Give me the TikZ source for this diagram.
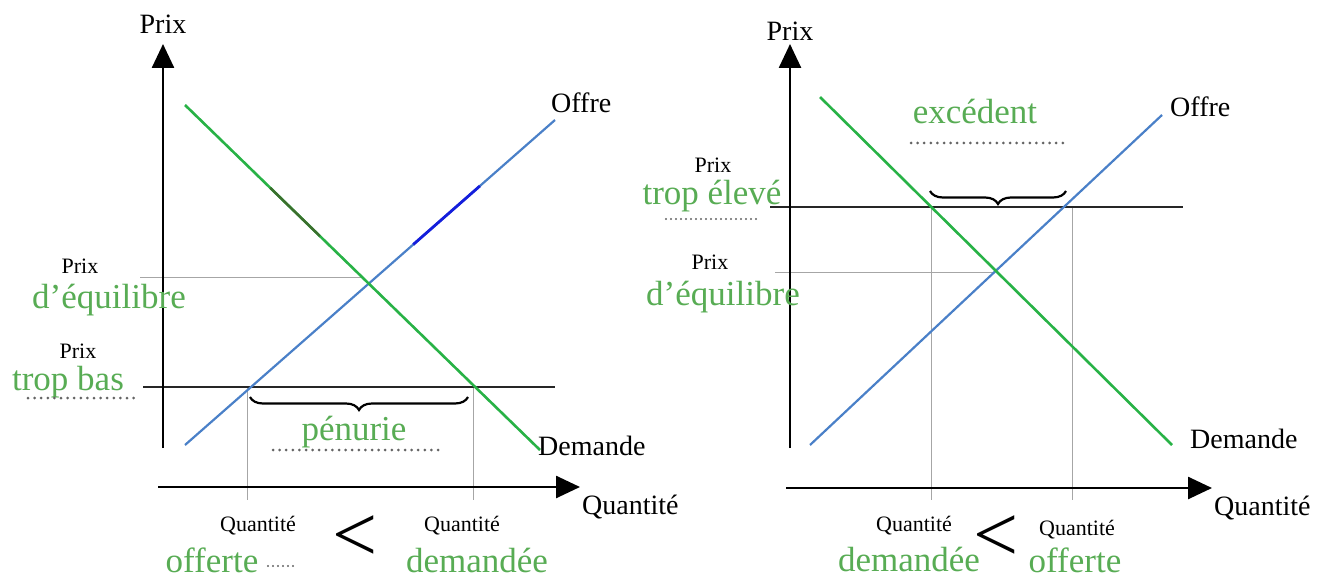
\documentclass[tikz,border=0pt]{standalone}
\usepackage{fontspec}
\setmainfont{Liberation Serif}
\usetikzlibrary{arrows.meta,decorations.pathreplacing,calc}
\definecolor{txtgreen}{RGB}{88,172,84}
\definecolor{lngreen}{RGB}{40,178,70}
\definecolor{lnblue}{RGB}{74,128,200}
\definecolor{dotgray}{RGB}{100,100,100}
\definecolor{hiblue}{RGB}{20,30,220}
\definecolor{dkgreen}{RGB}{60,110,45}
\tikzset{
  axis/.style={line width=2.6pt,-{Triangle[length=24pt,width=22pt]}},
  supply/.style={lnblue,line width=2.2pt},
  demand/.style={lngreen,line width=2.6pt},
  guide/.style={gray!70,line width=0.8pt},
  pline/.style={black!85,line width=1.3pt},
  dotline/.style={dotgray,line width=3pt,line cap=round,dash pattern=on 0pt off 6.6pt},
  smalldots/.style={dotgray,line width=2.2pt,line cap=round,dash pattern=on 0pt off 5pt},
  lbl/.style={inner sep=0pt,font=\fontsize{28}{30}\selectfont},
  small/.style={inner sep=0pt,font=\fontsize{22}{24}\selectfont},
  glbl/.style={inner sep=0pt,text=txtgreen,font=\fontsize{35}{37}\selectfont},
  bigsym/.style={inner sep=0pt,font=\fontsize{80}{80}\selectfont},
  brc/.style={decorate,decoration={brace,amplitude=13pt},line width=2.2pt}
}
\begin{document}
\begin{tikzpicture}[x=1pt,y=-1pt]
\useasboundingbox (0,0) rectangle (1335,580);
% ---------------- LEFT ----------------
\coordinate (lyb) at (163,448);
\coordinate (lyt) at (163,44);
\coordinate (lxl) at (158,487);
\coordinate (lxr) at (580,487);
\coordinate (ls1) at (185,445);
\coordinate (ls2) at (555,120);
\coordinate (ld1) at (185,105);
\coordinate (ld2) at (540,450);
\coordinate (leq1) at (140,277);
\coordinate (leq2) at (362,277);
\coordinate (lp1) at (143,387);
\coordinate (lp2) at (555,387);
\coordinate (lv1t) at (247,387);
\coordinate (lv1b) at (247,500);
\coordinate (lv2t) at (473,387);
\coordinate (lv2b) at (473,500);
\draw[guide] (leq1) -- (leq2);
\draw[guide] (lv1t) -- (lv1b);
\draw[guide] (lv2t) -- (lv2b);
\draw[pline] (lp1) -- (lp2);
\draw[supply] (ls1) -- (ls2);
\draw[demand] (ld1) -- (ld2);
% highlighted segments on the curves
\coordinate (lsh1) at ($(ls1)!0.617!(ls2)$);
\coordinate (lsh2) at ($(ls1)!0.797!(ls2)$);
\draw[hiblue,line width=2.8pt] (lsh1) -- (lsh2);
\coordinate (ldh1) at ($(ld1)!0.24!(ld2)$);
\coordinate (ldh2) at ($(ld1)!0.38!(ld2)$);
\draw[dkgreen,line width=2.4pt] (ldh1) -- (ldh2);
\draw[axis] (lyb) -- (lyt);
\draw[axis] (lxl) -- (lxr);
\coordinate (lb1) at (468,397);
\coordinate (lb2) at (250,397);
\draw[brc] (lb1) -- (lb2);
\node[lbl] (prixTL) at (163,24) {Prix};
\node[lbl,anchor=west] (offreL) at (551,103) {Offre};
\node[lbl,anchor=west] (demL) at (538,446) {Demande};
\node[lbl,anchor=west] (quantL) at (582,507) {Quantité};
\node[small] (prixEqL) at (80,266) {Prix};
\node[glbl] (eqL) at (109,300) {d’équilibre};
\node[small] (prixBasL) at (78,351) {Prix};
\node[glbl] (basL) at (68,382) {trop bas};
\coordinate (lbd1) at (28,398);
\coordinate (lbd2) at (135,398);
\draw[dotline] (lbd1) -- (lbd2);
\node[glbl] (penL) at (354,432) {pénurie};
\coordinate (lpd1) at (273,450);
\coordinate (lpd2) at (442,450);
\draw[dotline] (lpd1) -- (lpd2);
\node[small] (qoL) at (258,526) {Quantité};
\node[glbl] (offL) at (212,560) {offerte};
\coordinate (lod1) at (268,566);
\coordinate (lod2) at (296,566);
\draw[smalldots] (lod1) -- (lod2);
\node[bigsym] (ltL) at (355,539) {<};
\node[small] (qdL) at (462,526) {Quantité};
\node[glbl] (demdL) at (477,560) {demandée};
% ---------------- RIGHT ----------------
\coordinate (ryb) at (790,448);
\coordinate (ryt) at (790,44);
\coordinate (rxl) at (786,488);
\coordinate (rxr) at (1212,488);
\coordinate (rs1) at (810,445);
\coordinate (rs2) at (1162,115);
\coordinate (rd1) at (820,97);
\coordinate (rd2) at (1172,445);
\coordinate (req1) at (775,272);
\coordinate (req2) at (995,272);
\coordinate (rp1) at (770,207);
\coordinate (rp2) at (1183,207);
\coordinate (rv1t) at (931,207);
\coordinate (rv1b) at (931,500);
\coordinate (rv2t) at (1072,207);
\coordinate (rv2b) at (1072,500);
\draw[guide] (req1) -- (req2);
\draw[guide] (rv1t) -- (rv1b);
\draw[guide] (rv2t) -- (rv2b);
\draw[pline] (rp1) -- (rp2);
\draw[supply] (rs1) -- (rs2);
\draw[demand] (rd1) -- (rd2);
\draw[axis] (ryb) -- (ryt);
\draw[axis] (rxl) -- (rxr);
\coordinate (rb1) at (930,191);
\coordinate (rb2) at (1066,191);
\draw[brc] (rb2) -- (rb1);
\node[lbl] (prixTR) at (790,31) {Prix};
\node[lbl,anchor=west] (offreR) at (1170,107) {Offre};
\node[lbl,anchor=west] (demR) at (1190,439) {Demande};
\node[lbl,anchor=west] (quantR) at (1214,508) {Quantité};
\node[small] (prixElR) at (713,165) {Prix};
\node[glbl] (elR) at (712,196) {trop élevé};
\coordinate (red1) at (666,219);
\coordinate (red2) at (757,219);
\draw[smalldots] (red1) -- (red2);
\node[small] (prixEqR) at (710,262) {Prix};
\node[glbl] (eqR) at (723,297) {d’équilibre};
\node[glbl] (excR) at (975,112) {excédent};
\coordinate (rxd1) at (911,143);
\coordinate (rxd2) at (1065,143);
\draw[dotline] (rxd1) -- (rxd2);
\node[small] (qdR) at (914,526) {Quantité};
\node[glbl] (demdR) at (909,559) {demandée};
\node[bigsym] (ltR) at (996,539) {<};
\node[small] (qoR) at (1077,530) {Quantité};
\node[glbl] (offR) at (1075,560) {offerte};
\end{tikzpicture}
\end{document}
